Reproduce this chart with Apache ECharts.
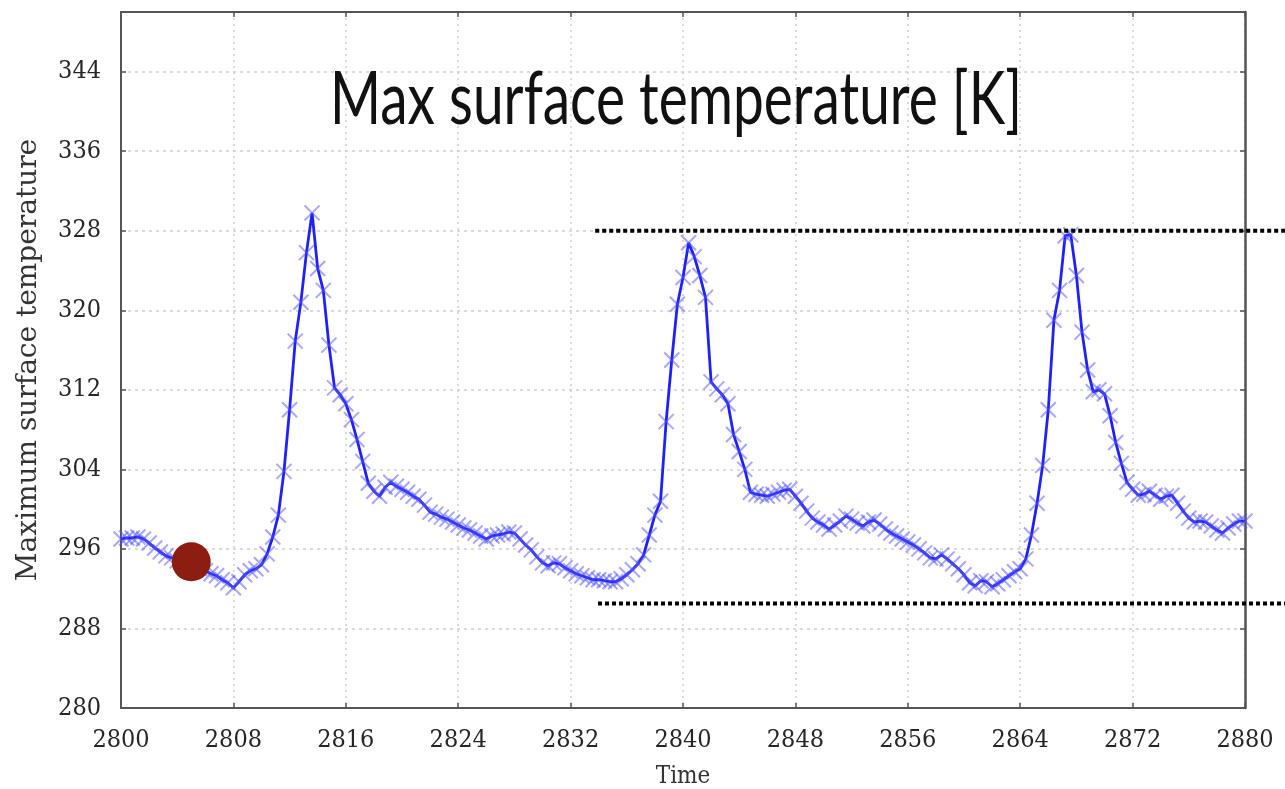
<!DOCTYPE html>
<html>
<head>
<meta charset="utf-8">
<script src="https://cdn.jsdelivr.net/npm/echarts@6/dist/echarts.min.js"></script>
<style>
  html, body { margin: 0; padding: 0; background: #fff; }
  #chart { width: 1285px; height: 789px; }
</style>
</head>
<body>
<div id="chart"></div>
<script>
// sampling of the time axis
const timeStart = 2800;
const timeStep = 0.4;

// maximum surface temperature [K], one value per time step
const maxTemp = [
  297.0, 297.1, 297.1, 297.2, 297.0, 296.6, 296.1, 295.7, 295.3, 295.1,
  294.8, 294.6, 294.4, 294.2, 294.0, 293.8, 293.5, 293.3, 292.9, 292.6,
  292.1, 292.7, 293.4, 293.8, 294.0, 294.4, 295.5, 297.2, 299.4, 303.8,
  310.0, 316.9, 320.8, 325.8, 329.8, 324.2, 322.0, 316.5, 312.2, 311.5,
  310.6, 309.0, 307.0, 304.8, 302.6, 301.8, 301.3, 302.2, 302.7, 302.3,
  302.0, 301.7, 301.3, 301.0, 300.4, 299.7, 299.5, 299.2, 299.0, 298.7,
  298.4, 298.1, 297.9, 297.6, 297.3, 297.0, 297.3, 297.4, 297.5, 297.7,
  297.6, 297.0, 296.4, 295.9, 295.2, 294.6, 294.3, 294.6, 294.5, 294.1,
  293.8, 293.5, 293.3, 293.1, 292.9, 292.9, 292.8, 292.7, 292.7, 293.0,
  293.4, 293.9, 294.5, 295.4, 297.4, 299.4, 300.8, 308.8, 315.0, 320.6,
  323.3, 326.8, 325.4, 323.5, 321.3, 312.8, 312.1, 311.5, 310.6, 307.5,
  305.8, 304.0, 301.7, 301.5, 301.4, 301.3, 301.5, 301.7, 301.9, 302.0,
  301.3, 300.6, 299.8, 299.1, 298.7, 298.4, 298.0, 298.4, 298.8, 299.3,
  299.0, 298.6, 298.3, 298.7, 298.9, 298.5, 298.0, 297.6, 297.3, 297.0,
  296.7, 296.4, 296.0, 295.6, 295.1, 295.0, 295.4, 295.0, 294.5, 294.0,
  293.4, 292.6, 292.3, 292.8, 292.7, 292.2, 292.5, 292.9, 293.3, 293.7,
  294.0, 295.0, 297.4, 300.6, 304.4, 310.0, 319.0, 322.0, 327.5, 327.6,
  323.5, 317.8, 314.0, 311.8, 312.0, 311.6, 309.4, 306.7, 304.6, 302.7,
  302.0, 301.4, 301.5, 301.8, 301.4, 301.0, 301.3, 301.4, 300.6, 299.8,
  299.1, 298.7, 298.8, 298.7, 298.3, 297.9, 297.6, 298.1, 298.5, 298.8,
  298.8
];

// highlighted point (red dot)
const markedPoint = [2805, 294.7];

// dotted reference lines: [start time, level]
const upperRef = [2833.75, 328];
const lowerRef = [2833.95, 290.5];

const titleText = 'Max surface temperature [K]';

const tempSeries = maxTemp.map((v, i) => [timeStart + i * timeStep, v]);

const labelFont = "'DejaVu Serif Condensed', 'DejaVu Serif', serif";
const frameColor = '#555';
const plain = v => String(v);

const chart = echarts.init(document.getElementById('chart'));

const option = {
  animation: false,
  grid: {
    left: 121,
    right: 40,
    top: 12,
    bottom: 81,
    outerBoundsMode: 'none',
    containLabel: false
  },
  xAxis: [
    {
      type: 'value',
      min: 2800,
      max: 2880,
      interval: 8,
      name: 'Time',
      nameLocation: 'middle',
      nameGap: 57,
      nameTextStyle: { fontFamily: labelFont, fontSize: 24, color: '#333' },
      axisLine: { show: true, lineStyle: { color: frameColor, width: 2 } },
      axisTick: { show: true, inside: true, length: 5, lineStyle: { color: frameColor, width: 1.5 } },
      axisLabel: { fontFamily: labelFont, fontSize: 25, color: '#262626', margin: 20, formatter: plain },
      splitLine: { show: true, lineStyle: { color: '#cfcfcf', type: [2, 4], width: 1.5 } }
    },
    {
      type: 'value',
      position: 'top',
      min: 2800,
      max: 2880,
      interval: 8,
      axisLine: { show: true, lineStyle: { color: frameColor, width: 2 } },
      axisTick: { show: true, inside: true, length: 5, lineStyle: { color: frameColor, width: 1.5 } },
      axisLabel: { show: false },
      splitLine: { show: false }
    }
  ],
  yAxis: [
    {
      type: 'value',
      min: 280,
      max: 350,
      interval: 8,
      name: 'Maximum surface temperature',
      nameLocation: 'middle',
      nameGap: 78,
      nameTextStyle: { fontFamily: "'DejaVu Serif', serif", fontSize: 28, color: '#333' },
      axisLine: { show: true, lineStyle: { color: frameColor, width: 2 } },
      axisTick: { show: true, inside: true, length: 5, lineStyle: { color: frameColor, width: 1.5 } },
      axisLabel: { fontFamily: labelFont, fontSize: 25, color: '#262626', margin: 20, showMaxLabel: false, formatter: plain },
      splitLine: { show: true, lineStyle: { color: '#cfcfcf', type: [3, 4], width: 1.5 } }
    },
    {
      type: 'value',
      position: 'right',
      min: 280,
      max: 350,
      interval: 8,
      axisLine: { show: true, lineStyle: { color: frameColor, width: 2.5 } },
      axisTick: { show: true, inside: true, length: 5, lineStyle: { color: frameColor, width: 1.5 } },
      axisLabel: { show: false },
      splitLine: { show: false }
    }
  ],
  series: [
    {
      name: 'max temp',
      type: 'line',
      data: tempSeries,
      symbol: 'path://M0,0L10,10M10,0L0,10',
      symbolSize: 15,
      showAllSymbol: true,
      itemStyle: {
        color: 'none',
        borderColor: 'rgba(80, 80, 255, 0.5)',
        borderWidth: 2
      },
      lineStyle: { color: '#2020ff', width: 2.8 },
      z: 3
    },
    {
      name: 'marked',
      type: 'scatter',
      data: [markedPoint],
      symbol: 'circle',
      symbolSize: 39,
      itemStyle: { color: '#8c1d10', opacity: 1 },
      z: 5
    }
  ]
};

chart.setOption(option);

// handwritten-looking title: narrow it to the width it has in the picture
const titleFont = "400 74px Lato, 'Noto Sans', sans-serif";
const ctx = document.createElement('canvas').getContext('2d');
ctx.font = titleFont;
const titleScaleX = 692 / ctx.measureText(titleText).width;

// dotted reference lines reach past the plot to the right edge
const p1 = chart.convertToPixel({ xAxisIndex: 0, yAxisIndex: 0 }, upperRef);
const p2 = chart.convertToPixel({ xAxisIndex: 0, yAxisIndex: 0 }, lowerRef);
const rightEdge = chart.getWidth();
chart.setOption({
  graphic: [
    ...[p1, p2].map(p => ({
      type: 'line',
      z: 10,
      shape: { x1: p[0], y1: p[1], x2: rightEdge, y2: p[1] },
      style: { stroke: '#000', lineWidth: 4, lineDash: [4, 3] }
    })),
    {
      type: 'text',
      z: 10,
      x: 676,
      y: 100,
      scaleX: titleScaleX,
      style: {
        text: titleText,
        font: titleFont,
        fill: '#111',
        align: 'center',
        verticalAlign: 'middle'
      }
    }
  ]
});
</script>
</body>
</html>
